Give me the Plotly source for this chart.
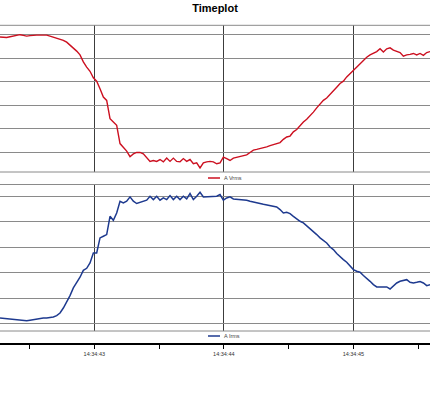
import plotly.graph_objects as go

# ---- data ----
t_start = "2024-05-14 14:34:42.272"   # first sample time
t_end = "2024-05-14 14:34:45.592"
sample_ms = 25.74                      # sample interval (ms)
tick_labels_at = ["2024-05-14 14:34:43", "2024-05-14 14:34:44", "2024-05-14 14:34:45"]
tick_texts = ["14:34:43", "14:34:44", "14:34:45"]

a_vrms = [
    224.5, 224.45, 224.4, 224.55, 224.7, 224.85, 225.0, 224.85, 224.7, 224.8,
    224.9, 224.9, 224.9, 224.9, 224.9, 224.7, 224.5, 224.3, 224.1, 223.8,
    223.4, 222.8, 222.2, 221.5, 220.7, 219.2, 218.1, 217.2, 215.8, 215.1,
    213.5, 211.7, 211.0, 207.1, 206.4, 205.7, 201.8, 200.9, 200.2, 199.0,
    199.6, 199.9, 199.9, 199.6, 198.7, 198.0, 198.2, 198.0, 198.4, 197.9,
    198.7, 198.0, 198.7, 198.0, 197.9, 198.6, 198.0, 198.4, 197.5, 197.7,
    196.6, 197.7, 197.9, 198.0, 197.9, 197.5, 197.7, 198.9, 198.6, 198.2,
    198.7, 198.9, 199.1, 199.25, 199.4, 199.9, 200.4, 200.55, 200.7, 200.9,
    201.1, 201.35, 201.6, 201.8, 202.0, 202.7, 203.2, 203.4, 204.3, 204.8,
    205.7, 206.4, 207.0, 207.7, 208.5, 209.4, 210.3, 211.0, 211.5, 212.2,
    213.1, 213.8, 214.6, 215.1, 216.0, 216.7, 217.6, 218.3, 219.0, 219.5,
    220.2, 220.7, 221.0, 221.4, 222.0, 221.3, 222.0, 222.2, 221.7, 221.4,
    221.2, 220.4, 220.7, 220.8, 221.0, 220.7, 221.0, 220.6, 221.2, 221.4,
]

a_irms = [
    2.47, 2.44, 2.42, 2.40, 2.39, 2.34, 2.29, 2.27, 2.26, 2.30,
    2.34, 2.40, 2.47, 2.47, 2.47, 2.50, 2.55, 2.65, 2.86, 3.25,
    3.70, 4.22, 4.82, 5.21, 5.66, 6.20, 6.36, 6.78, 7.56, 7.56,
    8.74, 8.87, 9.00, 10.43, 10.12, 10.69, 11.61, 11.48, 11.61, 11.95,
    11.61, 11.43, 11.53, 11.61, 11.69, 12.00, 11.74, 12.00, 11.69, 11.87,
    11.74, 12.05, 11.74, 12.00, 11.74, 12.00, 11.79, 12.21, 11.74, 12.00,
    12.31, 11.95, 11.95, 11.95, 12.00, 12.00, 12.13, 11.69, 11.87, 11.95,
    11.79, 11.77, 11.74, 11.71, 11.69, 11.61, 11.53, 11.48, 11.43, 11.37,
    11.32, 11.24, 11.16, 11.16, 10.96, 10.69, 10.75, 10.64, 10.43, 10.22,
    10.04, 9.91, 9.70, 9.44, 9.26, 9.00, 8.74, 8.55, 8.34, 8.03,
    7.82, 7.51, 7.25, 7.04, 6.83, 6.57, 6.26, 6.13, 6.05, 5.79,
    5.60, 5.34, 5.08, 4.90, 4.90, 4.90, 4.90, 4.74, 5.00, 5.21,
    5.34, 5.42, 5.47, 5.26, 5.21, 5.26, 5.32, 5.21, 5.00, 5.08,
]

series_names = ["A Vrms", "A Irms"]
series_colors = ["#cc1020", "#1e3a8f"]

FONT = "Liberation Sans, Arial, sans-serif"
H = 400.0
W = 430.0

def py(p):  # pixel from top -> paper fraction
    return (H - p) / H

fig = go.Figure()
fig.add_trace(go.Scatter(x0=t_start, dx=sample_ms, y=a_vrms, mode="lines",
                         name=series_names[0], line=dict(color=series_colors[0], width=1.4),
                         xaxis="x", yaxis="y", showlegend=False))
fig.add_trace(go.Scatter(x0=t_start, dx=sample_ms, y=a_irms, mode="lines",
                         name=series_names[1], line=dict(color=series_colors[1], width=1.5),
                         xaxis="x", yaxis="y2", showlegend=False))

grid_h = "#8a8a8a"
grid_v = "#3c3c3c"

fig.update_layout(
    width=430, height=400,
    margin=dict(l=0, r=0, t=0, b=0),
    paper_bgcolor="white", plot_bgcolor="white",
    font=dict(family=FONT),
    title=dict(text="<b>Timeplot</b>", x=0.5, xanchor="center", y=py(8), yanchor="middle",
               font=dict(size=11, color="black", family=FONT)),
    xaxis=dict(
        type="date", range=[t_start, t_end],
        anchor="free", position=py(344),
        showline=True, linecolor="black", linewidth=2,
        tickmode="array", tickvals=tick_labels_at, ticktext=tick_texts,
        ticks="outside", ticklen=4, tickwidth=1, tickcolor="black",
        tickfont=dict(size=5.5, color="#333333"),
        showgrid=True, gridcolor=grid_v, gridwidth=1,
        minor=dict(ticks="outside", ticklen=4, tickwidth=1, tickcolor="black",
                   dtick=500, showgrid=False),
        zeroline=False,
    ),
    yaxis=dict(
        domain=[py(172), py(25.3)], range=[195.74, 227.0],
        tick0=200, dtick=5, showticklabels=False, ticks="",
        showgrid=True, gridcolor=grid_h, gridwidth=1, zeroline=False, showline=False,
    ),
    yaxis2=dict(
        domain=[py(331), py(184.5)], range=[1.45, 12.92],
        tick0=2, dtick=2, showticklabels=False, ticks="",
        showgrid=True, gridcolor=grid_h, gridwidth=1, zeroline=False, showline=False,
    ),
)

shapes = []
for yref in ["y domain", "y2 domain"]:
    for yv in [0, 1]:
        shapes.append(dict(type="line", xref="paper", yref=yref, x0=0, x1=1, y0=yv, y1=yv,
                           line=dict(color=grid_h, width=1)))
# legend glyphs
legend_y = [py(178), py(336)]
for i in range(2):
    shapes.append(dict(type="line", xref="paper", yref="paper",
                       x0=208 / W, x1=220 / W, y0=legend_y[i], y1=legend_y[i],
                       line=dict(color=series_colors[i], width=1.5)))
    fig.add_annotation(xref="paper", yref="paper", x=222 / W, y=legend_y[i],
                       xanchor="left", yanchor="middle", showarrow=False,
                       text=series_names[i], font=dict(size=5.5, color="#444444", family=FONT))
fig.update_layout(shapes=shapes)

fig.write_html("out.html")
